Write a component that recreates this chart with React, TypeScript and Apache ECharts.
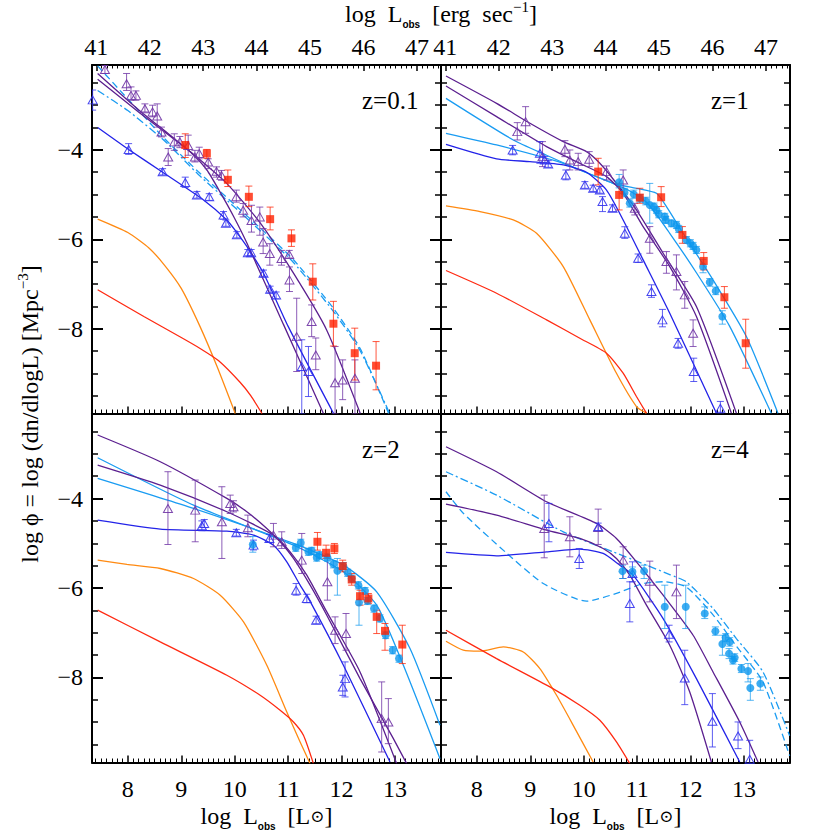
import React, { useEffect, useRef } from 'react';
import * as echarts from 'echarts';

// ---------- axes ----------
const X_MIN = 7.33;
const X_MAX = 13.86;
const Y_MIN = -9.9;
const Y_MAX = -2.1;
const ERG_OFFSET = 33.59; // log L[erg/s] = log L[Lsun] + 33.59

const xMajor = [8, 9, 10, 11, 12, 13];
const ergMajor = [41, 42, 43, 44, 45, 46, 47];
const yMajor = [-8, -6, -4];
const yMinor = [-9.5, -9, -8.5, -7.5, -7, -6.5, -5.5, -5, -4.5, -3.5, -3, -2.5];
const panelLabels = ['z=0.1', 'z=1', 'z=2', 'z=4'];

// ---------- z = 0.1 ----------
const A_purple1 = [[7.435, -2.29], [8.2, -3.1], [8.8, -3.68], [9.2, -4.08], [9.48, -4.45], [9.73, -4.95], [9.98, -5.49], [10.23, -6.09], [10.91, -7.9], [11.66, -9.9]];
const A_purple2 = [[7.435, -2.42], [8.2, -3.15], [8.8, -3.7], [9.2, -4.07], [9.85, -4.75], [10.48, -5.64], [11.1, -6.76], [11.72, -8.03], [12.35, -9.9]];
const A_blue = [[7.436, -3.5], [8.015, -3.99], [8.638, -4.49], [9.417, -5.12], [9.853, -5.57], [10.04, -5.85], [10.227, -6.16], [10.539, -6.76], [11.0, -7.95], [11.85, -9.9]];
const A_skyDash = [[7.435, -2.12], [8.0, -2.86], [8.69, -3.75], [9.32, -4.49], [9.94, -5.16], [10.56, -5.84], [11.1, -6.46], [11.85, -7.55], [12.35, -8.45], [12.88, -9.9]];
const A_skyDashDot = [[7.435, -2.67], [8.0, -3.12], [8.69, -3.8], [9.32, -4.55], [9.94, -5.22], [10.56, -5.9], [11.1, -6.52], [11.85, -7.62], [12.35, -8.5], [12.9, -9.9]];
const A_orange = [[7.436, -5.55], [8.0, -5.85], [8.4, -6.2], [8.7, -6.6], [9.0, -7.1], [9.35, -7.95], [9.67, -8.85], [10.01, -9.9]];
const A_red = [[7.436, -7.13], [8.3, -7.73], [9.0, -8.2], [9.36, -8.45], [9.7, -8.72], [10.1, -9.2], [10.3, -9.5], [10.51, -9.9]];
// [x, y, low, high]
const A_squares = [[9.075, -3.89, -4.17, -3.64], [9.479, -4.08, -4.19, -3.99], [9.872, -4.67, -4.82, -4.45], [10.265, -5.05, -5.27, -4.81], [10.663, -5.55, -5.79, -5.28], [11.062, -5.98, -6.16, -5.79], [11.461, -6.95, -7.36, -6.55], [11.847, -7.89, -8.39, -7.39], [12.246, -8.55, -9.15, -7.99], [12.645, -8.83, -9.37, -8.29]];
const A_ptri = [[7.572, -2.2, -2.29, -2.11], [7.977, -2.52, -2.67, -2.29], [8.06, -2.78, -2.89, -2.59], [8.152, -2.78, -2.89, -2.68], [8.32, -3.08, -3.15, -2.97], [8.463, -3.15, -3.26, -3.0], [8.55, -3.24, -3.49, -2.97], [8.63, -3.6, -3.71, -3.49], [8.756, -4.16, -4.35, -3.97], [8.87, -3.82, -4.01, -3.64], [8.974, -3.82, -3.95, -3.7], [9.13, -3.9, -4.12, -3.67], [9.255, -4.16, -4.27, -4.01], [9.336, -4.08, -4.2, -3.94], [9.504, -4.27, -4.42, -4.2], [9.66, -4.48, -4.61, -4.38], [9.753, -4.57, -4.68, -4.46], [10.03, -5.05, -5.17, -4.9], [10.158, -5.35, -5.5, -5.2], [10.314, -5.58, -5.84, -5.24], [10.47, -5.5, -5.91, -5.28], [10.532, -6.06, -6.32, -5.76], [10.657, -6.32, -6.58, -6.1], [10.875, -6.43, -6.58, -6.25], [11.02, -6.34, -6.42, -6.25], [11.025, -6.91, -7.17, -6.62], [11.16, -8.18, -8.96, -7.32], [11.44, -7.84, -8.18, -7.47], [11.517, -8.59, -8.92, -8.21], [11.878, -9.21, -9.9, -8.4], [12.02, -9.15, -9.59, -8.7], [12.25, -9.11, -9.9, -8.7]];
const A_btri = [[7.342, -2.88, -3.11, -2.66], [8.015, -3.99, -4.1, -3.86], [8.651, -4.49, -4.56, -4.42], [9.075, -4.73, -4.84, -4.61], [9.293, -5.01, -5.08, -4.93], [9.523, -5.05, -5.13, -4.98], [9.791, -5.46, -5.55, -5.38], [9.835, -5.64, -5.71, -5.57], [10.04, -5.9, -5.97, -5.83], [10.246, -6.3, -6.37, -6.23], [10.308, -6.3, -6.37, -6.23], [10.539, -6.76, -6.84, -6.69], [10.663, -7.12, -7.2, -7.05], [10.775, -7.25, -7.33, -7.18], [11.255, -8.85, -9.9, -8.25], [11.38, -8.96, -9.52, -8.4]];

// ---------- z = 1 ----------
const B_purple1 = [[7.423, -2.346], [8.37, -2.958], [8.994, -3.405], [9.617, -3.815], [10.053, -4.039], [10.302, -4.3], [10.613, -4.747], [10.987, -5.344], [11.486, -6.313], [12.109, -7.506], [12.857, -9.893]];
const B_purple2 = [[7.423, -2.57], [8.37, -3.256], [9.305, -3.927], [9.928, -4.3], [10.427, -4.598], [10.738, -4.971], [11.112, -5.717], [11.61, -6.611], [12.109, -7.73], [12.763, -9.893]];
const B_sky1 = [[7.423, -2.846], [8.682, -3.778], [9.305, -4.12], [9.928, -4.45], [10.551, -4.75], [10.863, -4.92], [11.2, -5.2], [11.61, -5.866], [12.109, -6.75], [12.732, -7.95], [13.51, -9.893]];
const B_sky2 = [[7.423, -3.629], [8.37, -3.89], [9.617, -4.3], [10.551, -4.747], [10.987, -4.859], [11.361, -4.971], [11.548, -5.269], [11.86, -5.866], [12.42, -6.91], [13.044, -8.178], [13.635, -9.893]];
const B_blue = [[7.423, -3.875], [8.37, -4.2], [8.994, -4.263], [9.617, -4.337], [10.053, -4.5], [10.427, -4.9], [10.738, -5.568], [11.112, -6.462], [11.61, -7.656], [12.483, -9.893]];
const B_orange = [[7.423, -5.254], [8.059, -5.381], [8.682, -5.568], [9.118, -5.866], [9.617, -6.611], [10.115, -7.805], [10.613, -9.0], [10.987, -9.744], [11.174, -9.893]];
const B_red = [[7.423, -6.7], [8.37, -7.208], [9.305, -7.805], [9.928, -8.215], [10.427, -8.55], [10.738, -8.998], [10.987, -9.52], [11.174, -9.893]];
const B_squares = [[10.271, -4.486, -4.784, -4.188], [10.663, -5.008, -5.344, -4.747], [11.05, -5.068, -5.195, -4.859], [11.449, -5.06, -5.269, -4.822], [11.847, -5.903, -6.09, -5.717], [12.246, -6.485, -6.686, -6.298], [12.632, -7.298, -7.544, -7.059], [13.031, -8.327, -8.886, -7.79]];
const B_circles = [[10.663, -4.725, -4.85, -4.55], [10.763, -4.957, -5.05, -4.86], [10.862, -5.195, -5.28, -5.1], [10.937, -4.994, -5.08, -4.9], [11.05, -5.083, -5.17, -5.0], [11.161, -5.143, -5.23, -5.06], [11.236, -5.232, -5.64, -4.75], [11.317, -5.27, -5.35, -5.19], [11.361, -5.344, -5.42, -5.27], [11.404, -5.441, -5.52, -5.36], [11.517, -5.493, -5.57, -5.42], [11.535, -5.568, -5.64, -5.49], [11.641, -5.643, -5.72, -5.57], [11.735, -5.68, -5.76, -5.6], [11.778, -5.769, -5.85, -5.69], [11.922, -6.015, -6.09, -5.94], [11.996, -6.09, -6.17, -6.01], [12.046, -6.15, -6.23, -6.07], [12.108, -6.239, -6.32, -6.16], [12.233, -6.612, -6.75, -6.45], [12.358, -6.963, -7.05, -6.88], [12.47, -7.156, -7.24, -7.07], [12.594, -7.73, -7.9, -7.6]];
const B_ptri = [[8.757, -3.591, -3.778, -3.39], [8.913, -3.368, -3.629, -3.032], [9.23, -4.151, -4.374, -3.815], [9.648, -3.987, -4.151, -3.793], [9.741, -4.225, -4.449, -4.002], [9.897, -4.263, -4.449, -4.076], [10.103, -4.21, -4.374, -4.039], [10.427, -4.486, -4.673, -4.36], [10.738, -4.673, -4.971, -4.449], [10.956, -5.307, -5.456, -5.195], [11.237, -5.978, -6.313, -5.717], [11.548, -6.5, -6.761, -6.276], [11.735, -6.723, -7.134, -6.35], [11.891, -7.245, -7.544, -6.947], [12.047, -8.103, -8.401, -7.805]];
const B_btri = [[8.67, -4.002, -4.11, -3.9], [9.18, -4.076, -4.3, -3.815], [9.274, -4.225, -4.3, -4.15], [9.336, -4.315, -4.39, -4.24], [9.666, -4.561, -4.67, -4.45], [10.022, -4.785, -4.86, -4.71], [10.177, -4.859, -4.93, -4.79], [10.302, -4.896, -4.97, -4.82], [10.352, -5.157, -5.381, -5.046], [10.539, -5.307, -5.38, -5.23], [10.769, -5.866, -5.98, -5.72], [11.018, -6.425, -6.52, -6.33], [11.268, -7.171, -7.3, -7.02], [11.473, -7.805, -7.96, -7.57], [11.766, -8.327, -8.44, -8.22], [12.059, -8.961, -9.184, -8.662], [12.557, -9.781, -9.893, -9.63]];

// ---------- z = 2 ----------
const C_purple1 = [[7.436, -2.581], [8.607, -3.178], [9.853, -3.998], [10.227, -4.296], [10.601, -4.669], [10.85, -4.967], [11.1, -5.34], [11.411, -5.937], [11.723, -6.608], [12.345, -8.025], [12.969, -9.367], [13.218, -9.926]];
const C_purple2 = [[7.436, -3.252], [8.607, -3.7], [9.853, -4.296], [10.726, -4.818], [11.037, -5.191], [11.349, -5.713], [11.723, -6.534], [12.345, -7.876], [13.031, -9.926]];
const C_sky1 = [[7.436, -3.088], [9.23, -4.147], [11.1, -5.042], [12.034, -5.638], [12.657, -6.384], [13.156, -7.727], [13.841, -9.814]];
const C_sky2 = [[7.436, -3.55], [9.23, -4.222], [11.1, -5.005], [12.034, -5.489], [12.657, -6.086], [13.28, -7.354], [13.841, -9.069]];
const C_blue = [[7.436, -4.483], [8.607, -4.684], [9.853, -4.729], [10.352, -4.818], [10.726, -5.042], [10.975, -5.415], [11.224, -5.937], [11.411, -6.3], [12.034, -7.727], [12.906, -9.889]];
const C_orange = [[7.436, -5.377], [7.984, -5.474], [8.607, -5.564], [9.23, -5.788], [9.729, -6.161], [10.165, -6.757], [10.601, -7.727], [10.975, -8.771], [11.224, -9.441], [11.411, -9.926]];
const C_red = [[7.436, -6.496], [8.607, -7.205], [9.853, -7.95], [10.476, -8.398], [10.85, -8.733], [11.1, -8.994], [11.286, -9.292], [11.473, -9.926]];
const C_squares = [[11.548, -4.967, -5.154, -4.759], [11.71, -5.213, -5.34, -5.042], [11.865, -5.116, -5.228, -5.005], [12.021, -5.512, -5.639, -5.378], [12.189, -5.81, -5.937, -5.676], [12.345, -6.183, -6.384, -6.049], [12.501, -6.235, -6.347, -6.123], [12.657, -6.645, -7.018, -6.496], [12.812, -6.958, -7.391, -6.794], [13.136, -7.264, -7.689, -6.832]];
const C_circles = [[10.339, -5.027, -5.2, -4.85], [11.143, -5.102, -5.18, -5.02], [11.236, -4.99, -5.07, -4.91], [11.379, -5.191, -5.27, -5.11], [11.442, -5.169, -5.25, -5.09], [11.535, -5.318, -5.4, -5.24], [11.585, -5.266, -5.35, -5.19], [11.735, -5.318, -5.4, -5.24], [11.847, -5.467, -5.55, -5.39], [11.921, -5.616, -6.16, -5.34], [12.033, -5.512, -5.59, -5.43], [12.114, -5.661, -5.74, -5.58], [12.189, -5.788, -5.87, -5.71], [12.314, -5.937, -6.02, -5.86], [12.326, -6.325, -6.832, -5.974], [12.438, -6.064, -6.14, -5.99], [12.482, -6.287, -6.37, -6.21], [12.607, -6.459, -6.54, -6.38], [12.719, -6.683, -6.76, -6.6], [12.825, -7.055, -7.13, -6.98], [12.956, -7.391, -7.47, -7.31], [13.074, -7.577, -7.66, -7.5]];
const C_ptri = [[8.751, -4.222, -5.028, -3.401], [9.261, -4.259, -4.967, -3.588], [9.76, -4.52, -5.34, -3.737], [9.916, -4.11, -4.334, -3.924], [9.978, -4.184, -4.3, -4.05], [10.246, -4.654, -4.855, -4.371], [10.725, -4.818, -5.079, -4.557], [10.88, -4.967, -5.116, -4.744], [11.255, -5.377, -5.676, -4.781], [11.734, -5.862, -6.272, -5.303], [11.878, -6.943, -7.242, -6.645], [12.083, -7.018, -7.391, -6.57], [12.75, -8.92, -9.665, -8.099], [12.875, -8.994, -9.479, -8.472]];
const C_btri = [[9.386, -4.61, -4.72, -4.5], [9.43, -4.557, -4.65, -4.47], [10.03, -4.766, -4.84, -4.69], [10.352, -5.042, -5.15, -4.93], [10.65, -4.893, -4.98, -4.8], [11.149, -6.05, -6.16, -5.9], [11.349, -6.236, -6.33, -6.14], [11.523, -6.72, -6.8, -6.63], [12.022, -8.211, -8.4, -7.95], [12.065, -8.025, -8.435, -7.652]];

// ---------- z = 4 ----------
const D_purple1 = [[7.423, -2.843], [8.37, -3.402], [9.305, -4.073], [10.24, -4.557], [10.613, -4.893], [10.987, -5.415], [11.486, -6.161], [12.047, -7.056], [12.42, -7.876], [12.919, -8.994], [13.262, -9.889]];
const D_purple2 = [[7.423, -4.125], [8.37, -4.371], [9.305, -4.706], [9.928, -4.893], [10.364, -5.117], [10.613, -5.34], [10.863, -5.713], [11.174, -6.384], [11.61, -7.279], [11.984, -8.323], [12.389, -9.889]];
const D_blue = [[7.423, -5.206], [8.37, -5.28], [9.305, -5.191], [9.928, -5.131], [10.364, -5.228], [10.676, -5.489], [10.925, -5.713], [11.486, -6.683], [12.109, -8.025], [12.919, -9.889]];
const D_skyDashDot = [[7.423, -3.402], [8.37, -3.924], [9.617, -4.744], [10.551, -5.191], [11.174, -5.489], [11.61, -5.7], [11.922, -5.862], [12.42, -6.459], [12.857, -7.13], [13.355, -7.876], [13.853, -9.3]];
const D_skyDash = [[7.423, -3.849], [7.747, -4.33], [8.557, -5.22], [9.243, -5.9], [10.053, -6.295], [10.613, -6.12], [11.112, -5.9], [11.486, -5.86], [11.922, -5.98], [12.42, -6.6], [12.857, -7.3], [13.355, -8.1], [13.853, -9.75]];
const D_orange = [[7.423, -7.19], [7.747, -7.391], [8.059, -7.413], [8.495, -7.316], [8.869, -7.429], [9.18, -7.801], [9.492, -8.398], [9.804, -9.069], [10.177, -9.889]];
const D_red = [[7.423, -6.944], [8.37, -7.578], [9.367, -8.211], [9.928, -8.622], [10.302, -8.957], [10.613, -9.441], [10.863, -9.926]];
const D_circles = [[10.726, -5.623, -5.788, -5.489], [10.912, -5.638, -5.75, -5.53], [11.13, -5.623, -5.788, -5.489], [11.517, -6.421, -6.906, -5.937], [11.909, -6.421, -6.906, -5.937], [12.265, -6.571, -6.683, -6.422], [12.464, -6.966, -7.056, -6.869], [12.595, -7.25, -7.503, -7.056], [12.657, -7.108, -7.2, -7.02], [12.732, -7.205, -7.3, -7.11], [12.72, -7.466, -7.578, -7.354], [12.794, -7.615, -7.7, -7.53], [12.825, -7.556, -7.64, -7.47], [12.95, -7.802, -7.89, -7.71], [13.075, -7.854, -8.099, -7.689], [13.118, -8.234, -8.51, -8.025], [13.305, -8.137, -8.286, -7.988]];
const D_ptri = [[9.261, -4.669, -5.325, -3.924], [9.741, -4.855, -5.303, -4.408], [10.271, -4.647, -5.027, -4.237], [10.738, -5.377, -5.788, -5.079], [11.237, -5.847, -6.31, -5.4], [11.735, -6.086, -6.683, -5.489]];
const D_btri = [[9.349, -4.557, -4.967, -4.11], [9.916, -5.34, -5.564, -5.117], [10.271, -4.632, -4.72, -4.55], [10.912, -5.675, -5.862, -5.415], [10.863, -6.347, -6.757, -5.862], [11.598, -7.033, -7.205, -6.832], [11.891, -8.01, -8.607, -7.391], [12.408, -8.979, -9.553, -8.36], [12.888, -9.307, -9.59, -8.994], [13.106, -9.829, -9.926, -9.404]];

// ---------- styling ----------
const FONT = "'Liberation Serif', 'DejaVu Serif', serif";
const SANS = "'Liberation Sans', 'DejaVu Sans', sans-serif";
const COL = {
  purple: '#5b1f8f',
  blue: '#2323e8',
  sky: '#1a9cf2',
  orange: '#ff8a12',
  red: '#ff2a12',
  square: '#ff2000',
  circle: '#0d97ee',
  ptri: '#7136a6',
  btri: '#3434ee',
};
const GRIDS = [
  { left: 92, top: 65, width: 349, height: 348.5 },
  { left: 441, top: 65, width: 349, height: 348.5 },
  { left: 92, top: 413.5, width: 349, height: 349 },
  { left: 441, top: 413.5, width: 349, height: 349 },
];

const DASH = [7, 4];
const DASHDOT = [8, 3, 2, 3];

type Line = { data: number[][]; color: string; dash?: any };
type Pts = { data: number[][]; kind: 'ptri' | 'btri' | 'sq' | 'circ' };

const PANELS: { lines: Line[]; pts: Pts[] }[] = [
  {
    lines: [
      { data: A_orange, color: COL.orange }, { data: A_red, color: COL.red },
      { data: A_skyDash, color: COL.sky, dash: DASH }, { data: A_skyDashDot, color: COL.sky, dash: DASHDOT },
      { data: A_blue, color: COL.blue }, { data: A_purple1, color: COL.purple }, { data: A_purple2, color: COL.purple },
    ],
    pts: [{ data: A_ptri, kind: 'ptri' }, { data: A_btri, kind: 'btri' }, { data: A_squares, kind: 'sq' }],
  },
  {
    lines: [
      { data: B_orange, color: COL.orange }, { data: B_red, color: COL.red },
      { data: B_sky1, color: COL.sky }, { data: B_sky2, color: COL.sky },
      { data: B_blue, color: COL.blue }, { data: B_purple1, color: COL.purple }, { data: B_purple2, color: COL.purple },
    ],
    pts: [{ data: B_ptri, kind: 'ptri' }, { data: B_btri, kind: 'btri' }, { data: B_circles, kind: 'circ' }, { data: B_squares, kind: 'sq' }],
  },
  {
    lines: [
      { data: C_orange, color: COL.orange }, { data: C_red, color: COL.red },
      { data: C_sky1, color: COL.sky }, { data: C_sky2, color: COL.sky },
      { data: C_blue, color: COL.blue }, { data: C_purple1, color: COL.purple }, { data: C_purple2, color: COL.purple },
    ],
    pts: [{ data: C_ptri, kind: 'ptri' }, { data: C_btri, kind: 'btri' }, { data: C_circles, kind: 'circ' }, { data: C_squares, kind: 'sq' }],
  },
  {
    lines: [
      { data: D_orange, color: COL.orange }, { data: D_red, color: COL.red },
      { data: D_skyDash, color: COL.sky, dash: DASH }, { data: D_skyDashDot, color: COL.sky, dash: DASHDOT },
      { data: D_blue, color: COL.blue }, { data: D_purple1, color: COL.purple }, { data: D_purple2, color: COL.purple },
    ],
    pts: [{ data: D_ptri, kind: 'ptri' }, { data: D_btri, kind: 'btri' }, { data: D_circles, kind: 'circ' }],
  },
];

function range01(a: number, b: number, skipMod: number) {
  const out: number[] = [];
  for (let i = a; i <= b; i++) if (i % skipMod !== 0) out.push(i / 10);
  return out;
}
const xMinor = range01(74, 138, 10);
const ergMinor = range01(410, 474, 10);

function buildOption() {
  const xAxis: any[] = [];
  const yAxis: any[] = [];
  const series: any[] = [];
  const labelStyle = { fontSize: 24, fontFamily: FONT, color: '#000' };

  GRIDS.forEach((g, k) => {
    const topRow = k < 2;
    const leftCol = k % 2 === 0;
    const base = { gridIndex: k, type: 'value', splitLine: { show: false }, minorTick: { show: false } };
    xAxis.push({
      ...base, position: 'bottom', min: X_MIN, max: X_MAX,
      axisLine: { show: true, onZero: false, lineStyle: { color: '#000', width: 2 } },
      axisTick: { show: true, inside: true, length: 7, customValues: xMajor, lineStyle: { color: '#000', width: 1.5 } },
      axisLabel: { show: !topRow, customValues: xMajor, margin: 14, ...labelStyle },
    });
    xAxis.push({
      ...base, position: 'bottom', min: X_MIN, max: X_MAX,
      axisLine: { show: false, onZero: false },
      axisTick: { show: true, inside: true, length: 4, customValues: xMinor, lineStyle: { color: '#000', width: 1 } },
      axisLabel: { show: false },
    });
    xAxis.push({
      ...base, position: 'top', min: X_MIN + ERG_OFFSET, max: X_MAX + ERG_OFFSET,
      axisLine: { show: true, onZero: false, lineStyle: { color: '#000', width: 2 } },
      axisTick: { show: topRow, inside: true, length: 6, customValues: ergMajor, lineStyle: { color: '#000', width: 1.5 } },
      axisLabel: { show: topRow, customValues: ergMajor, margin: 6, ...labelStyle },
    });
    xAxis.push({
      ...base, position: 'top', min: X_MIN + ERG_OFFSET, max: X_MAX + ERG_OFFSET,
      axisLine: { show: false, onZero: false },
      axisTick: { show: topRow, inside: true, length: 3.5, customValues: ergMinor, lineStyle: { color: '#000', width: 1 } },
      axisLabel: { show: false },
    });
    const yFmt = (v: number) => (v < 0 ? '\u2212' + Math.abs(v) : String(v));
    ['left', 'right'].forEach((pos) => {
      yAxis.push({
        ...base, position: pos, min: Y_MIN, max: Y_MAX,
        axisLine: { show: true, onZero: false, lineStyle: { color: '#000', width: 2 } },
        axisTick: { show: true, inside: true, length: 11, customValues: yMajor, lineStyle: { color: '#000', width: 2 } },
        axisLabel: { show: pos === 'left' && leftCol, customValues: yMajor, margin: 9, formatter: yFmt, ...labelStyle },
      });
      yAxis.push({
        ...base, position: pos, min: Y_MIN, max: Y_MAX,
        axisLine: { show: false, onZero: false },
        axisTick: { show: true, inside: true, length: 6, customValues: yMinor, lineStyle: { color: '#000', width: 1.5 } },
        axisLabel: { show: false },
      });
    });

    const panel = PANELS[k];
    const ax = { xAxisIndex: 4 * k, yAxisIndex: 4 * k };
    panel.lines.forEach((ln) => {
      series.push({
        type: 'line', ...ax, data: ln.data, showSymbol: false, symbol: 'none',
        smooth: 0.2, clip: true, silent: true, z: 2,
        lineStyle: { color: ln.color, width: 1.3, type: ln.dash || 'solid' },
      });
    });
    panel.pts.forEach((p) => {
      const errColor = p.kind === 'ptri' ? COL.ptri : p.kind === 'btri' ? COL.btri : p.kind === 'sq' ? COL.square : COL.circle;
      const errOpacity = p.kind === 'sq' ? 0.75 : p.kind === 'circ' ? 0.7 : 0.8;
      series.push({
        type: 'custom', ...ax, data: p.data, clip: true, silent: true, z: 3,
        encode: { x: 0, y: 1 },
        renderItem: (_params: any, api: any) => {
          const x = api.value(0);
          const lo = api.value(2);
          const hi = api.value(3);
          const a = api.coord([x, hi]);
          const b = api.coord([x, lo]);
          const w = 3.5;
          const st = { stroke: errColor, lineWidth: 1, opacity: errOpacity };
          return {
            type: 'group',
            children: [
              { type: 'line', shape: { x1: a[0], y1: a[1], x2: b[0], y2: b[1] }, style: st },
              { type: 'line', shape: { x1: a[0] - w, y1: a[1], x2: a[0] + w, y2: a[1] }, style: st },
              { type: 'line', shape: { x1: b[0] - w, y1: b[1], x2: b[0] + w, y2: b[1] }, style: st },
            ],
          };
        },
      });
      let marker: any;
      if (p.kind === 'ptri' || p.kind === 'btri') {
        marker = {
          symbol: 'triangle', symbolSize: [9, 8],
          itemStyle: { color: 'rgba(255,255,255,0)', borderColor: p.kind === 'ptri' ? COL.ptri : COL.btri, borderWidth: 1, opacity: 0.9 },
        };
      } else if (p.kind === 'sq') {
        marker = { symbol: 'rect', symbolSize: 8, itemStyle: { color: COL.square } };
      } else {
        marker = { symbol: 'circle', symbolSize: 8, itemStyle: { color: COL.circle } };
      }
      series.push({
        type: 'scatter', ...ax, data: p.data.map((d) => [d[0], d[1]]), clip: true, silent: true, z: 4, ...marker,
      });
    });
  });

  const rich = {
    t: { fontSize: 24, fontFamily: FONT, fill: '#000', lineHeight: 30 },
    o: { fontSize: 17, fontFamily: FONT, fill: '#000', lineHeight: 30 },
    s: { fontSize: 10, fontFamily: SANS, fontWeight: 'bold', fill: '#000', lineHeight: 12, verticalAlign: 'bottom' },
    p: { fontSize: 15, fontFamily: FONT, fill: '#000', lineHeight: 15, verticalAlign: 'top' },
  };
  const graphic: any[] = [
    {
      type: 'text', x: 441, y: 14,
      style: { text: '{t|log  L}{s|obs}{t|  [erg  sec}{p|\u22121}{t|]}', rich, align: 'center', verticalAlign: 'middle' },
    },
    {
      type: 'text', x: 266.5, y: 816,
      style: { text: '{t|log  L}{s|obs}{t|  [L}{o|\u2299}{t|]}', rich, align: 'center', verticalAlign: 'middle' },
    },
    {
      type: 'text', x: 615.5, y: 816,
      style: { text: '{t|log  L}{s|obs}{t|  [L}{o|\u2299}{t|]}', rich, align: 'center', verticalAlign: 'middle' },
    },
    {
      type: 'text', x: 30, y: 414, rotation: Math.PI / 2,
      style: { text: '{t|log \u03d5 = log (dn/dlogL) [Mpc}{p|\u22123}{t|]}', rich, align: 'center', verticalAlign: 'middle' },
    },
  ];
  panelLabels.forEach((lab, k) => {
    const g = GRIDS[k];
    graphic.push({
      type: 'text', x: g.left + 270, y: k < 2 ? 100 : 449,
      style: { text: lab, fontSize: 25, fontFamily: FONT, fill: '#000', align: 'left', verticalAlign: 'middle' },
    });
  });

  return {
    animation: false,
    backgroundColor: '#ffffff',
    grid: GRIDS.map((g) => ({ ...g, containLabel: false, outerBoundsMode: 'none' })),
    xAxis,
    yAxis,
    series,
    graphic,
  };
}

export default function App() {
  const ref = useRef<HTMLDivElement>(null);
  useEffect(() => {
    document.body.style.margin = '0';
    if (!ref.current) return;
    const chart = echarts.init(ref.current, undefined, { renderer: 'svg' });
    chart.setOption(buildOption() as any);
    return () => chart.dispose();
  }, []);
  return <div ref={ref} style={{ width: 830, height: 830 }} />;
}
